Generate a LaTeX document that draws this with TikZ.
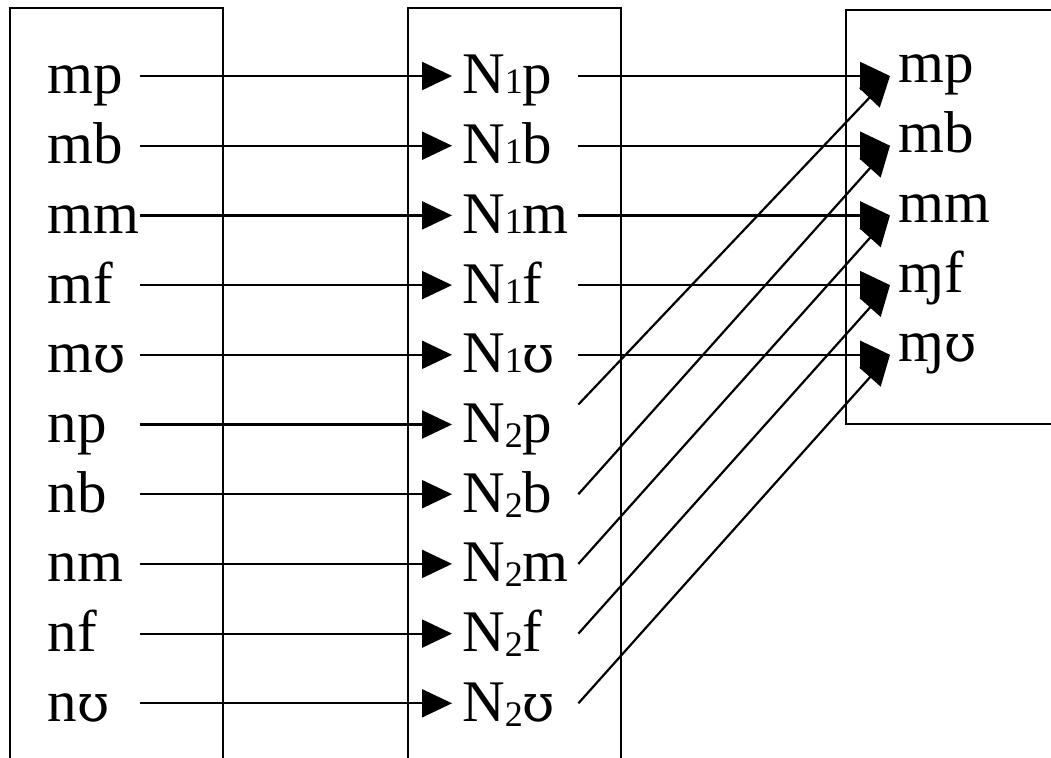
\documentclass[tikz,border=0pt]{standalone}
\usepackage{fontspec}
\setmainfont{Liberation Serif}
\newfontfamily\ipafont[Scale=0.88]{DejaVu Serif}
\usetikzlibrary{arrows.meta}
% small index digit after N, optionally lowered
\newcommand{\idx}[2][0pt]{\raisebox{#1}{\fontsize{36}{36}\selectfont #2}}
% labiodental approximant glyph
\newcommand{\ups}{{\ipafont ʊ}}

\begin{document}
\begin{tikzpicture}[x=1pt,y=-1pt,
  every node/.style={font=\fontsize{59}{59}\selectfont, inner sep=0pt},
  frame/.style={line width=2.2pt},
  feed/.style={line width=2.2pt, -{Triangle[length=30pt,width=28pt]}},
  srclab/.style={anchor=east, text height=46pt, text depth=10pt},
  midlab/.style={anchor=west, text height=46pt, text depth=10pt},
  dstlab/.style={anchor=west, text height=40pt, text depth=26pt}
]
\useasboundingbox (0,0) rectangle (1051,757);

% three columns
\draw[frame] (10,770) -- (10,8) -- (223,8) -- (223,770);
\draw[frame] (408,770) -- (408,8) -- (621,8) -- (621,770);
\draw[frame] (1060,10) -- (846,10) -- (846,424) -- (1060,424);

% source clusters
\foreach \i/\t in {1/mp,2/mb,3/mm,4/mf,5/m\ups,6/np,7/nb,8/nm,9/nf,10/n\ups}
  \node[srclab] (L\i) at (140,{76+69.7*(\i-1)}) {\makebox[92pt][l]{\t}};

% intermediate forms
\foreach \i/\t in {1/N\idx{1}p,2/N\idx{1}b,3/N\idx{1}m,4/N\idx{1}f,5/N\idx{1}\ups,
                   6/N\idx[-5pt]{2}p,7/N\idx[-5pt]{2}b,8/N\idx[-5pt]{2}m,9/N\idx[-5pt]{2}f,10/N\idx[-5pt]{2}\ups}
  \node[midlab] (M\i) at (452,{76+69.7*(\i-1)}) {\makebox[126pt][l]{\hspace{10pt}\t}};

% resulting clusters
\foreach \i/\t in {1/mp,2/mb,3/mm,4/ɱf,5/ɱ\ups}
  \node[dstlab] (R\i) at (890,{76+69.7*(\i-1)}) {\hspace{8pt}\t};

% source -> intermediate
\foreach \i in {1,...,10}
  \draw[feed] (L\i.east) -- (M\i.west);

% intermediate -> result
\foreach \i in {1,...,5}
  \draw[feed] (M\i.east) -- (R\i.west);
\draw[feed] ([yshift=20pt]M6.east) -- (R1.west);
\draw[feed] (M7.east) -- (R2.west);
\draw[feed] (M8.east) -- (R3.west);
\draw[feed] (M9.east) -- (R4.west);
\draw[feed] (M10.east) -- (R5.west);
\end{tikzpicture}
\end{document}
